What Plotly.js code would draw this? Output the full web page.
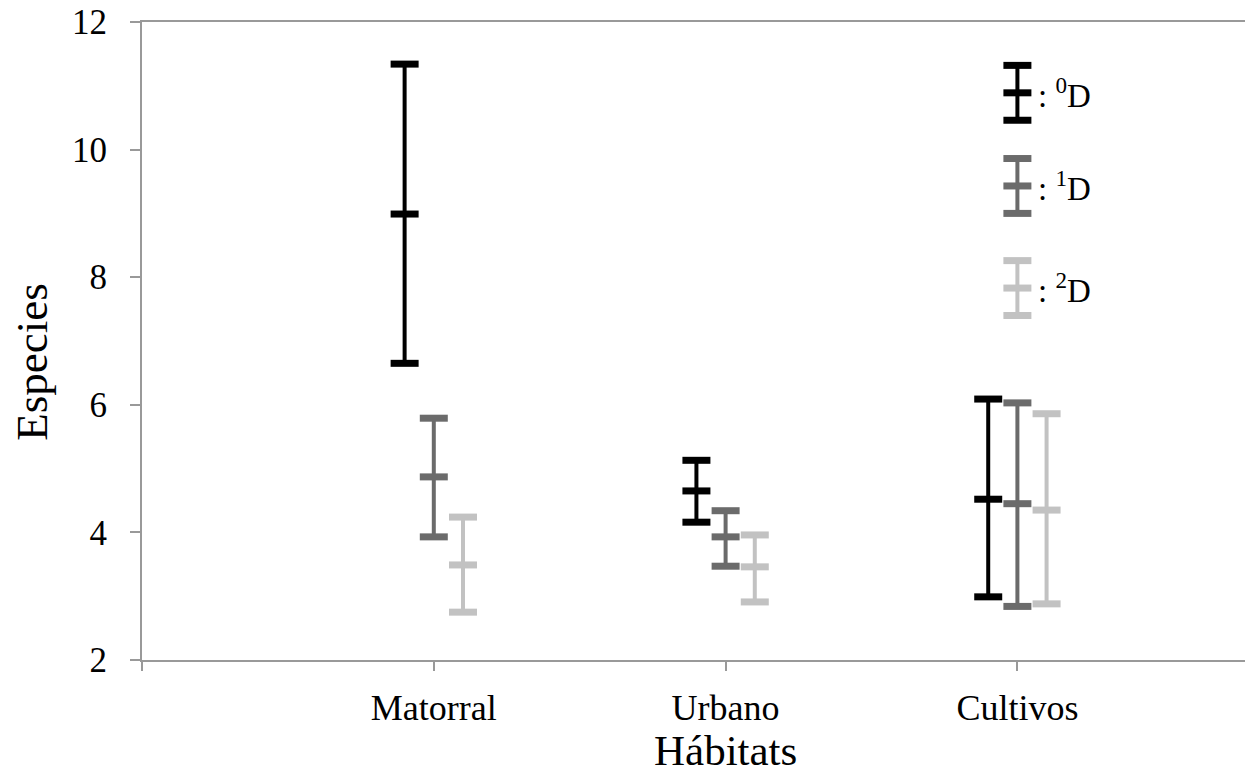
<!DOCTYPE html>
<html>
<head>
<meta charset="utf-8">
<script src="https://cdn.plot.ly/plotly-3.0.1.min.js"></script>
<style>html,body{margin:0;padding:0;background:#fff;}#chart{width:1245px;height:777px;}</style>
</head>
<body>
<div id="chart"></div>
<script>
// ---- data ----
var categories = ['Matorral', 'Urbano', 'Cultivos'];
var seriesNames = ['0D', '1D', '2D'];
var seriesOrders = ['0', '1', '2'];
var seriesColors = ['#000000', '#6b6b6b', '#c2c2c2'];

var mean0 = [8.99, 4.65, 4.52];
var low0  = [6.65, 4.16, 2.99];
var high0 = [11.34, 5.13, 6.09];

var mean1 = [4.87, 3.93, 4.45];
var low1  = [3.93, 3.47, 2.84];
var high1 = [5.79, 4.34, 6.03];

var mean2 = [3.49, 3.46, 4.35];
var low2  = [2.75, 2.91, 2.88];
var high2 = [4.24, 3.96, 5.86];

var xTickLabels = [''].concat(categories);
var xTitle = 'Hábitats';
var yTitle = 'Especies';
var legendMid = [10.89, 9.43, 7.83];
var legendHalf = 0.43;

// ---- build ----
var means = [mean0, mean1, mean2];
var lows = [low0, low1, low2];
var highs = [high0, high1, high2];
var offsets = [-0.1, 0, 0.1];
var capSize = 20, capWidth = 7, stemWidth = 4;
var font = 'Liberation Serif, Times New Roman, serif';

var traces = [];
for (var s = 0; s < 3; s++) {
  var xs = categories.map(function (c, i) { return i + 1 + offsets[s]; });
  traces.push({
    type: 'scatter', mode: 'markers', name: seriesNames[s], showlegend: false,
    x: xs, y: means[s],
    marker: { symbol: 'line-ew', size: capSize, color: seriesColors[s], line: { color: seriesColors[s], width: capWidth } },
    error_y: {
      type: 'data', symmetric: false,
      array: highs[s].map(function (h, i) { return h - means[s][i]; }),
      arrayminus: lows[s].map(function (l, i) { return means[s][i] - l; }),
      width: 0, thickness: stemWidth, color: seriesColors[s]
    },
    hoverinfo: 'skip'
  });
  traces.push({
    type: 'scatter', mode: 'markers', showlegend: false,
    x: xs.concat(xs), y: lows[s].concat(highs[s]),
    marker: { symbol: 'line-ew', size: capSize, color: seriesColors[s], line: { color: seriesColors[s], width: capWidth } },
    hoverinfo: 'skip'
  });
  var lx = categories.length;
  traces.push({
    type: 'scatter', mode: 'markers', showlegend: false,
    x: [lx, lx, lx], y: [legendMid[s] - legendHalf, legendMid[s], legendMid[s] + legendHalf],
    marker: { symbol: 'line-ew', size: capSize, color: seriesColors[s], line: { color: seriesColors[s], width: capWidth } },
    error_y: { type: 'data', symmetric: false, array: [0, legendHalf, 0], arrayminus: [0, legendHalf, 0], width: 0, thickness: stemWidth, color: seriesColors[s] },
    hoverinfo: 'skip'
  });
}

var annotations = seriesOrders.map(function (o, s) {
  return {
    xref: 'x', yref: 'y', x: categories.length, y: legendMid[s],
    xanchor: 'left', yanchor: 'middle', xshift: 19, yshift: 0,
    text: ': <sup>' + o + '</sup>D', showarrow: false,
    font: { family: font, size: 33, color: '#000' }
  };
});
annotations.push({
  xref: 'paper', yref: 'paper', x: -0.1, y: 0.467,
  xanchor: 'center', yanchor: 'middle', textangle: -90,
  text: yTitle, showarrow: false,
  font: { family: font, size: 45, color: '#000' }
});
annotations.push({
  xref: 'x', yref: 'paper', x: 2, y: 0,
  xanchor: 'center', yanchor: 'bottom', yshift: -116,
  text: xTitle, showarrow: false,
  font: { family: font, size: 43, color: '#000' }
});

var layout = {
  width: 1245, height: 777,
  margin: { l: 142, r: 0, t: 22, b: 117, pad: 0 },
  paper_bgcolor: '#fff', plot_bgcolor: '#fff',
  showlegend: false,
  font: { family: font, color: '#000' },
  xaxis: {
    range: [0, 3.78], showgrid: false, zeroline: false,
    showline: true, linecolor: '#999', linewidth: 2, mirror: true,
    ticks: 'outside', ticklen: 9, tickwidth: 2, tickcolor: '#999',
    tickvals: xTickLabels.map(function (t, i) { return i; }), ticktext: xTickLabels,
    tickfont: { family: font, size: 36, color: '#000' }, ticklabelstandoff: 6
  },
  yaxis: {
    range: [2, 12], dtick: 2, showgrid: false, zeroline: false,
    showline: true, linecolor: '#999', linewidth: 2,
    ticks: 'outside', ticklen: 10, tickwidth: 2, tickcolor: '#999',
    tickfont: { family: font, size: 35, color: '#000' }, ticklabelstandoff: 16
  },
  annotations: annotations
};

Plotly.newPlot('chart', traces, layout, { staticPlot: true, displayModeBar: false });
</script>
</body>
</html>
